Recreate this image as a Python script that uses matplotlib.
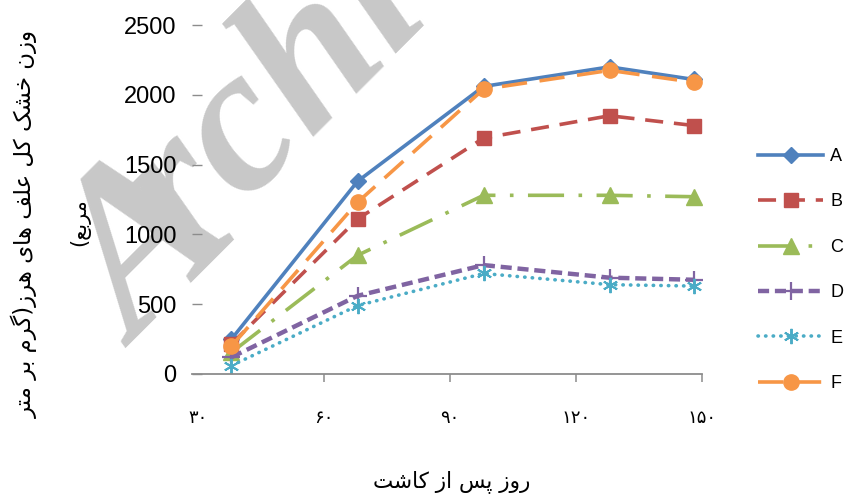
import matplotlib
matplotlib.use('Agg')
import matplotlib.pyplot as plt

# data
days = [38, 68, 98, 128, 148]
A = [250, 1380, 2060, 2200, 2110]
B = [215, 1110, 1690, 1850, 1780]
C = [155, 850, 1280, 1280, 1270]
D = [120, 560, 780, 690, 675]
E = [60, 490, 720, 640, 630]
F = [200, 1230, 2040, 2175, 2090]
names = ['A', 'B', 'C', 'D', 'E', 'F']

xticks = [30, 60, 90, 120, 150]
xtick_labels = ['۳۰', '۶۰', '۹۰', '۱۲۰', '۱۵۰']
yticks = [0, 500, 1000, 1500, 2000, 2500]

ylabel_1 = 'وزن خشک کل علف های هرز(گرم بر متر'
ylabel_2 = 'مربع)'
xlabel = 'روز پس از کاشت'

# arabic letter forms: isolated, final, initial, medial
FORMS = {
    'ا': ('\uFE8D', '\uFE8E', None, None),
    'ب': ('\uFE8F', '\uFE90', '\uFE91', '\uFE92'),
    'پ': ('\uFB56', '\uFB57', '\uFB58', '\uFB59'),
    'ت': ('\uFE95', '\uFE96', '\uFE97', '\uFE98'),
    'خ': ('\uFEA5', '\uFEA6', '\uFEA7', '\uFEA8'),
    'ر': ('\uFEAD', '\uFEAE', None, None),
    'ز': ('\uFEAF', '\uFEB0', None, None),
    'س': ('\uFEB1', '\uFEB2', '\uFEB3', '\uFEB4'),
    'ش': ('\uFEB5', '\uFEB6', '\uFEB7', '\uFEB8'),
    'ع': ('\uFEC9', '\uFECA', '\uFECB', '\uFECC'),
    'ف': ('\uFED1', '\uFED2', '\uFED3', '\uFED4'),
    'ک': ('\uFB8E', '\uFB8F', '\uFB90', '\uFB91'),
    'گ': ('\uFB92', '\uFB93', '\uFB94', '\uFB95'),
    'ل': ('\uFEDD', '\uFEDE', '\uFEDF', '\uFEE0'),
    'م': ('\uFEE1', '\uFEE2', '\uFEE3', '\uFEE4'),
    'ن': ('\uFEE5', '\uFEE6', '\uFEE7', '\uFEE8'),
    'ه': ('\uFEE9', '\uFEEA', '\uFEEB', '\uFEEC'),
    'و': ('\uFEED', '\uFEEE', None, None),
    'ی': ('\uFBFC', '\uFBFD', '\uFBFE', '\uFBFF'),
}


def fa(text):
    # join letters and put them in visual (left to right) order
    out = []
    for i, ch in enumerate(text):
        if ch not in FORMS:
            out.append(ch)
            continue
        prev = text[i-1] if i > 0 else ''
        nxt = text[i+1] if i+1 < len(text) else ''
        iso, fin, ini, med = FORMS[ch]
        jp = prev in FORMS and FORMS[prev][2] is not None
        jn = nxt in FORMS and ini is not None
        if jp and jn:
            out.append(med)
        elif jp:
            out.append(fin)
        elif jn:
            out.append(ini)
        else:
            out.append(iso)
    s = ''.join(out)[::-1]
    return s.translate({ord('('): ')', ord(')'): '('})


fig = plt.figure(figsize=(8.48, 4.95), dpi=100)
ax = fig.add_axes([192/848, 1-374/495, 510/848, 349/495])
ax.patch.set_visible(False)

# watermark (cut by the top edge, as in the scan)
wm = dict(rotation=45, rotation_mode='anchor', ha='left', va='baseline',
          color='#c8c8c8', family='Liberation Serif', weight='bold',
          style='italic', zorder=-1)
fig.text(138/848, 1-348/495, 'A', fontsize=165, **wm)
fig.text(188/848, 1-262/495, 'rchive of SID', fontsize=150, **wm)

lw = 2.6
ax.plot(days, A, color='#4F81BD', lw=lw, marker='D', ms=8, label='A')
ax.plot(days, B, color='#C0504D', lw=lw, dashes=(5, 3), marker='s', ms=10, label='B')
ax.plot(days, C, color='#9BBB59', lw=lw, dashes=(10, 4, 1, 4), marker='^', ms=11, label='C')
ax.plot(days, D, color='#8064A2', lw=3.2, dashes=(2.5, 1.3), marker='+', ms=13, mew=1.6, label='D')
ax.plot(days, E, color='#4BACC6', lw=2.6, dashes=(0.1, 2), dash_capstyle='round',
        marker=(6, 2, 0), ms=11, mew=1.4, label='E')
ax.plot(days, F, color='#F79646', lw=lw, dashes=(7, 3.5), marker='o', ms=11, label='F')

ax.set_xlim(28.6, 150)
ax.set_ylim(0, 2500)
ax.set_xticks(xticks)
ax.set_xticklabels(xtick_labels, family='DejaVu Sans', fontsize=13)
ax.set_yticks(yticks)
ax.set_yticklabels([str(v) for v in yticks], family='Liberation Sans', fontsize=17)

for s in ['top', 'right', 'left']:
    ax.spines[s].set_visible(False)
ax.spines['bottom'].set_color('#8c8c8c')
ax.spines['bottom'].set_linewidth(1.3)
ax.tick_params(axis='x', direction='out', length=6, width=1.1, color='#8c8c8c', pad=19)
ax.tick_params(axis='y', direction='in', length=7, width=1, color='#8c8c8c', pad=11)
ax.xaxis.get_major_ticks()[0].tick1line.set_visible(False)

fig.text(25/848, 1-224/495, fa(ylabel_1), rotation=90, ha='center', va='center',
         family='DejaVu Sans', fontsize=16.5)
fig.text(80/848, 1-222/495, fa(ylabel_2), rotation=90, ha='center', va='center',
         family='DejaVu Sans', fontsize=15)
fig.text(452/848, 1-482/495, fa(xlabel), ha='center', va='center',
         family='DejaVu Sans', fontsize=15.5)

leg = ax.legend(loc='center left', bbox_to_anchor=(758/848, 1-270/495),
                bbox_transform=fig.transFigure, frameon=False,
                prop={'family': 'Liberation Sans', 'size': 13},
                handlelength=3.6, handletextpad=0.4, labelspacing=1.57,
                borderaxespad=0, borderpad=0)

plt.savefig('out.png', dpi=100)
